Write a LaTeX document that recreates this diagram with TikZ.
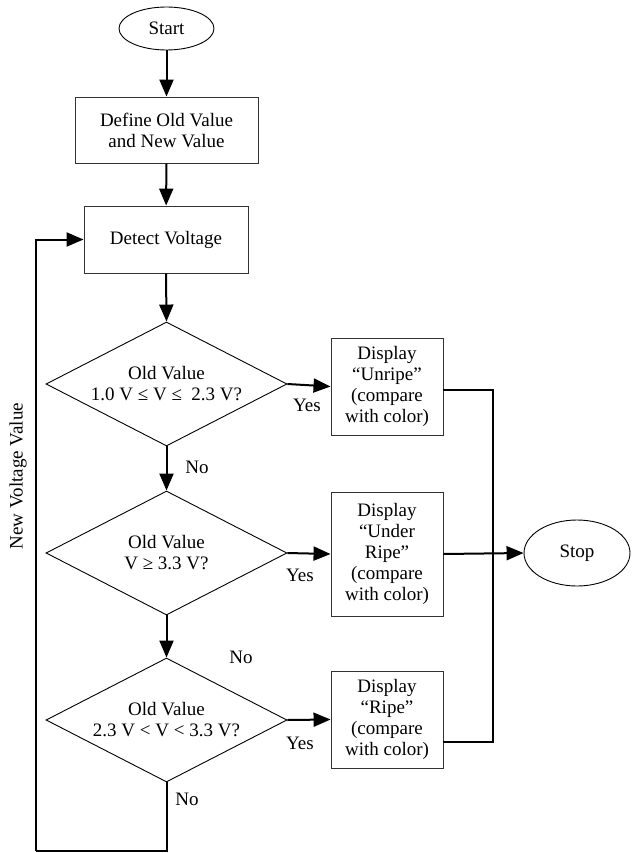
\documentclass[tikz,border=0pt]{standalone}
\usepackage{fontspec}
\setmainfont{Liberation Serif}
\usetikzlibrary{shapes.geometric,arrows.meta}

\tikzset{
  txt/.style={font=\fontsize{19}{21}\selectfont,align=center,inner sep=0pt},
  term/.style={txt,draw,ellipse,line width=0.9pt},
  procbox/.style={txt,draw=black!80,rectangle,line width=0.9pt},
  decide/.style={txt,draw,diamond,aspect=1.94,line width=0.9pt,minimum width=241pt,minimum height=124pt},
  arr/.style={line width=2pt,-{Triangle[length=17pt,width=14pt]}},
  ln/.style={line width=2pt}
}

\begin{document}
\begin{tikzpicture}[x=1pt,y=-1pt]
  \useasboundingbox (0,0) rectangle (634,853);

  % main column
  \node[term,minimum width=95pt,minimum height=43pt] (start) at (166.5,28.5) {Start};
  \node[procbox,minimum width=183pt,minimum height=66pt] (define) at (166.5,130) {Define Old Value\\and New Value};
  \node[procbox,minimum width=164pt,minimum height=67pt] (detect) at (166,239.5) {Detect Voltage};
  \node[decide] (dA) at (166.5,384) {Old Value\\1.0 V ≤ V ≤\ \ 2.3 V?};
  \node[decide] (dB) at (166.5,553) {Old Value\\V ≥ 3.3 V?};
  \node[decide] (dC) at (166.5,720) {Old Value\\2.3 V < V < 3.3 V?};

  % display boxes
  \node[procbox,minimum width=112pt,minimum height=97pt] (unripe) at (387,386.5) {Display\\“Unripe”\\(compare\\with color)};
  \node[procbox,minimum width=112pt,minimum height=124pt] (underripe) at (387,554) {Display\\“Under\\Ripe”\\(compare\\with color)};
  \node[procbox,minimum width=112pt,minimum height=97pt] (ripe) at (387,719.5) {Display\\“Ripe”\\(compare\\with color)};
  \node[term,minimum width=106pt,minimum height=66pt] (stop) at (577,553) {Stop};

  % labels
  \node[txt] (yesA) at (307,405) {Yes};
  \node[txt] (yesB) at (300,575) {Yes};
  \node[txt] (yesC) at (300,743) {Yes};
  \node[txt] (noA) at (197,467) {No};
  \node[txt] (noB) at (241,657) {No};
  \node[txt] (noC) at (187,799) {No};
  \node[txt,rotate=90] (newval) at (18,476) {New Voltage Value};

  \coordinate (loopbot) at (36,851);
  \coordinate (join) at (493,554);

  % connectors
  \draw[arr] (start) -- (define);
  \draw[arr] (define) -- (detect);
  \draw[arr] (detect.south) -- (dA.north);
  \draw[arr] (dA.south) -- (dB.north);
  \draw[arr] (dB.south) -- (dC.north);
  \draw[ln] (dC.south) |- (loopbot);
  \draw[arr] (loopbot) |- (detect.west);

  \draw[arr] (dA.east) -- (unripe.west);
  \draw[arr] (dB.east) -- (underripe.west);
  \draw[arr] (dC.east) -- (ripe.west);

  \draw[ln] ([yshift=-3pt]unripe.east) -| (join);
  \draw[ln] ([yshift=-22pt]ripe.east) -| (join);
  \draw[arr] (underripe.east) -- (stop.west);
\end{tikzpicture}
\end{document}
